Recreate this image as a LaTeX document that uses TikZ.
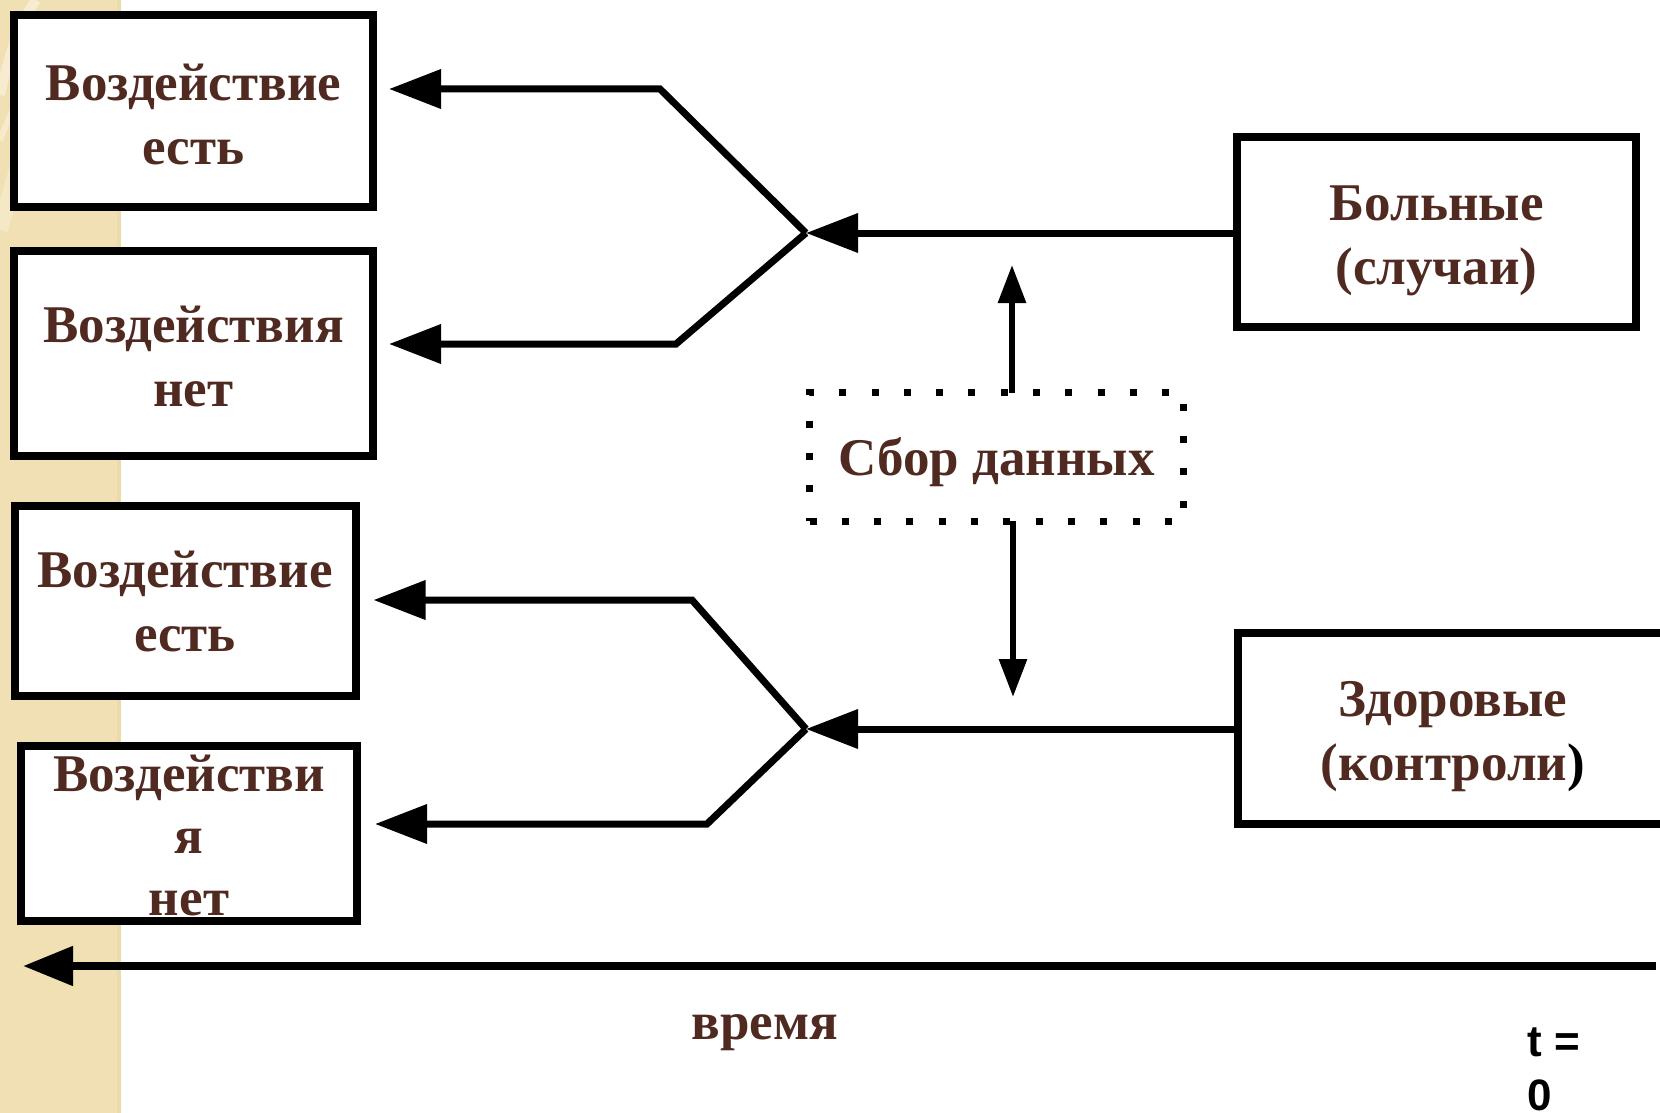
\documentclass[tikz,border=0pt]{standalone}
\usepackage{fontspec}
\setmainfont{Liberation Serif}
\newfontfamily\tzsans{Liberation Sans}
\usetikzlibrary{arrows.meta}
\definecolor{txtbrown}{RGB}{80,42,32}
\definecolor{stripbeige}{RGB}{240,224,180}
\definecolor{stripdot}{RGB}{232,214,166}
\definecolor{stripswirl}{RGB}{250,240,215}
\begin{document}
\begin{tikzpicture}[x=0.5pt,y=-0.5pt,
  bigfont/.style={font=\bfseries\fontsize{26.5}{32}\selectfont},
  box/.style={draw=black, line width=4pt, fill=white, inner sep=0pt},
  dotbox/.style={draw=black, line width=3.5pt, line cap=butt, dash pattern=on 3.5pt off 12.65pt, inner sep=0pt},
  flow/.style={line width=3.5pt, -{Triangle[length=26pt,width=19pt]}},
  vflow/.style={line width=3pt, -{Triangle[length=19pt,width=13.5pt]}},
  timeflow/.style={line width=4pt, -{Triangle[length=25pt,width=19pt]}},
  lbl/.style={text=txtbrown, inner sep=0pt, align=center, bigfont},
  tlbl/.style={inner sep=0pt, font=\tzsans\bfseries\fontsize{22}{27}\selectfont},
]
\useasboundingbox (0,0) rectangle (1660,1113);
% background strip
\fill[stripbeige] (0,0) rectangle (121,1113);
\fill[stripdot!60!stripbeige] (117,0) rectangle (121,1113);
\draw[stripswirl, line width=5pt, opacity=0.8] (0,95) .. controls (8,60) and (18,25) .. (36,0);
\draw[stripswirl, line width=3pt, opacity=0.7] (0,140) .. controls (12,110) and (20,95) .. (30,75);
\draw[stripswirl, line width=8pt, opacity=0.5] (0,230) .. controls (8,200) and (14,180) .. (20,160);

% boxes
\node[box, minimum width=179.5pt, minimum height=95.75pt] (b1) at (193.5,111) {};
\node[box, minimum width=179.5pt, minimum height=102.5pt] (b2) at (193.5,353) {};
\node[box, minimum width=170.5pt, minimum height=95pt] (b3) at (185,601) {};
\node[box, minimum width=168pt, minimum height=87.5pt] (b4) at (189,833) {};
\node[box, minimum width=199.5pt, minimum height=95pt] (bol) at (1436.5,232.4) {};
\node[box, minimum width=215.5pt, minimum height=95.5pt] (zd) at (1453,728.5) {};
\node[dotbox, minimum width=187pt, minimum height=64.25pt] (sb) at (996.5,457) {};

% box texts
\node[lbl] (b1t) at (193.5,114.2) {Воздействие\\есть};
\node[lbl] (b2t) at (193.5,356.7) {Воздействия\\нет};
\node[lbl] (b3t) at (185,601) {Воздействие\\есть};
\node[lbl, font=\bfseries\fontsize{26.5}{31}\selectfont] (b4t) at (189,835.6) {Воздействи\\я\\нет};
\node[lbl] (bolt) at (1436.5,240.9) {Больные\\(случаи)};
\node[lbl] (zdt) at (1453,737) {Здоровые\\(контроли{\color{black})}};
\node[lbl] (sbt) at (996.5,462.3) {Сбор данных};

% junction coordinates
\coordinate (J1) at (806,233);
\coordinate (J1a) at (660,89);
\coordinate (J1b) at (676,344);
\coordinate (J2) at (806,729);
\coordinate (J2a) at (692,600);
\coordinate (J2b) at (707,824);
\coordinate (upTip) at (1012,265);
\coordinate (dnTip) at (1013,697);
\coordinate (tStart) at (1656,966);
\coordinate (tEnd) at (23,966);

% top group
\draw[flow] (bol.west |- J1) -- (J1);
\draw[flow, shorten >=6pt] (J1) -- (J1a) -- (b1.east |- J1a);
\draw[flow, shorten >=6pt] (J1) -- (J1b) -- (b2.east |- J1b);
% bottom group
\draw[flow] (zd.west |- J2) -- (J2);
\draw[flow, shorten >=7pt] (J2) -- (J2a) -- (b3.east |- J2a);
\draw[flow, shorten >=7pt] (J2) -- (J2b) -- (b4.east |- J2b);
% vertical arrows
\draw[vflow] (upTip |- sb.center) ++(0,-64) -- (upTip);
\draw[vflow] (dnTip |- sb.center) ++(0,64) -- (dnTip);
% time axis
\draw[timeflow] (tStart) -- (tEnd);
\node[lbl] (vr) at (765,1032.6) {время};
\node[tlbl, anchor=base west] (t1) at (1527,1056) {t =};
\node[tlbl, anchor=base west] (t2) at (1527,1110) {0};
\end{tikzpicture}
\end{document}
